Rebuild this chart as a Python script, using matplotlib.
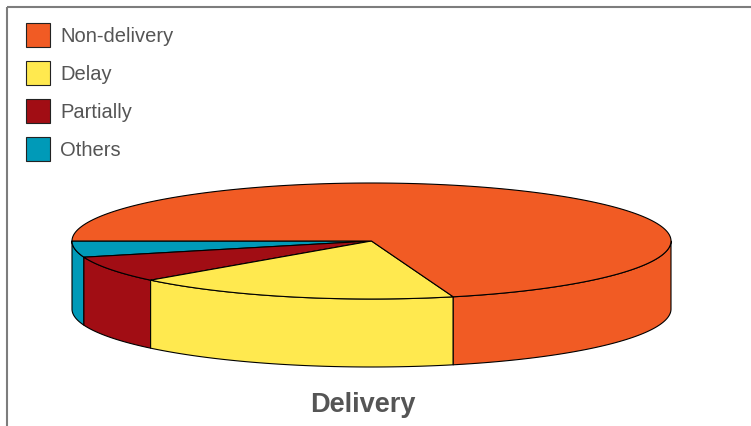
import numpy as np
import matplotlib.pyplot as plt
from matplotlib.patches import Polygon

# -----------------------------
# Data
# -----------------------------
labels = ["Non-delivery", "Delay", "Partially", "Others"]
shares = [70.6, 17.6, 7.3, 4.5]
colors = ["#F15B24", "#FFE94F", "#A10D14", "#009AB8"]

# slices are laid out counter-clockwise starting at the left edge,
# in this order (Others first, Non-delivery last)
pie_order = ["Others", "Partially", "Delay", "Non-delivery"]

TITLE = "Delivery"

# -----------------------------
# Geometry (pixel space)
# -----------------------------
CX, CY = 371.5, 241.0
RX, RY = 299.5, 58.0
DEPTH = 68.0
START = 180.0


def rim(t_deg, depth=0.0):
    t = np.radians(t_deg)
    return np.column_stack([CX + RX * np.cos(t), CY - RY * np.sin(t) + depth])


def main():
    fig = plt.figure(figsize=(7.51, 4.26), dpi=100)
    ax = fig.add_axes([0, 0, 1, 1])
    ax.set_xlim(0, 751)
    ax.set_ylim(426, 0)
    ax.axis("off")

    # frame (top and left only)
    ax.plot([7, 7], [426, 7], color="#7d7d7d", lw=1.5, solid_capstyle="butt")
    ax.plot([7, 751], [7, 7], color="#7d7d7d", lw=1.5, solid_capstyle="butt")

    color_of = dict(zip(labels, colors))
    value_of = dict(zip(labels, shares))
    total = sum(shares)

    ranges = []
    a = START
    for name in pie_order:
        span = 360.0 * value_of[name] / total
        ranges.append((name, a, a + span))
        a += span

    # outer walls (front half only)
    for name, a1, a2 in ranges:
        lo, hi = max(a1, 180.0), min(a2, 360.0)
        if hi <= lo:
            continue
        t = np.linspace(lo, hi, 120)
        top = rim(t)
        bottom = rim(t, DEPTH)[::-1]
        ax.add_patch(Polygon(np.vstack([top, bottom]), closed=True,
                             facecolor=color_of[name], edgecolor="black",
                             lw=0.8, joinstyle="round"))

    # top faces
    for name, a1, a2 in ranges:
        t = np.linspace(a1, a2, 300)
        pts = np.vstack([[CX, CY], rim(t)])
        ax.add_patch(Polygon(pts, closed=True, facecolor=color_of[name],
                             edgecolor="black", lw=0.8, joinstyle="round"))

    # legend
    for i, name in enumerate(labels):
        y0 = 23 + i * 38
        ax.add_patch(plt.Rectangle((26, y0), 24, 24, facecolor=color_of[name],
                                   edgecolor="#222222", lw=0.8))
        ax.text(60, y0 + 18.5, name, fontsize=14.5, color="#555555",
                family=["Liberation Sans", "DejaVu Sans"],
                va="baseline", ha="left")

    ax.text(363, 412, TITLE, fontsize=19.5, fontweight="bold",
            color="#555555", family=["Liberation Sans", "DejaVu Sans"],
            ha="center", va="baseline")

    fig.savefig("out.png", dpi=100)
    plt.close(fig)


if __name__ == "__main__":
    main()
